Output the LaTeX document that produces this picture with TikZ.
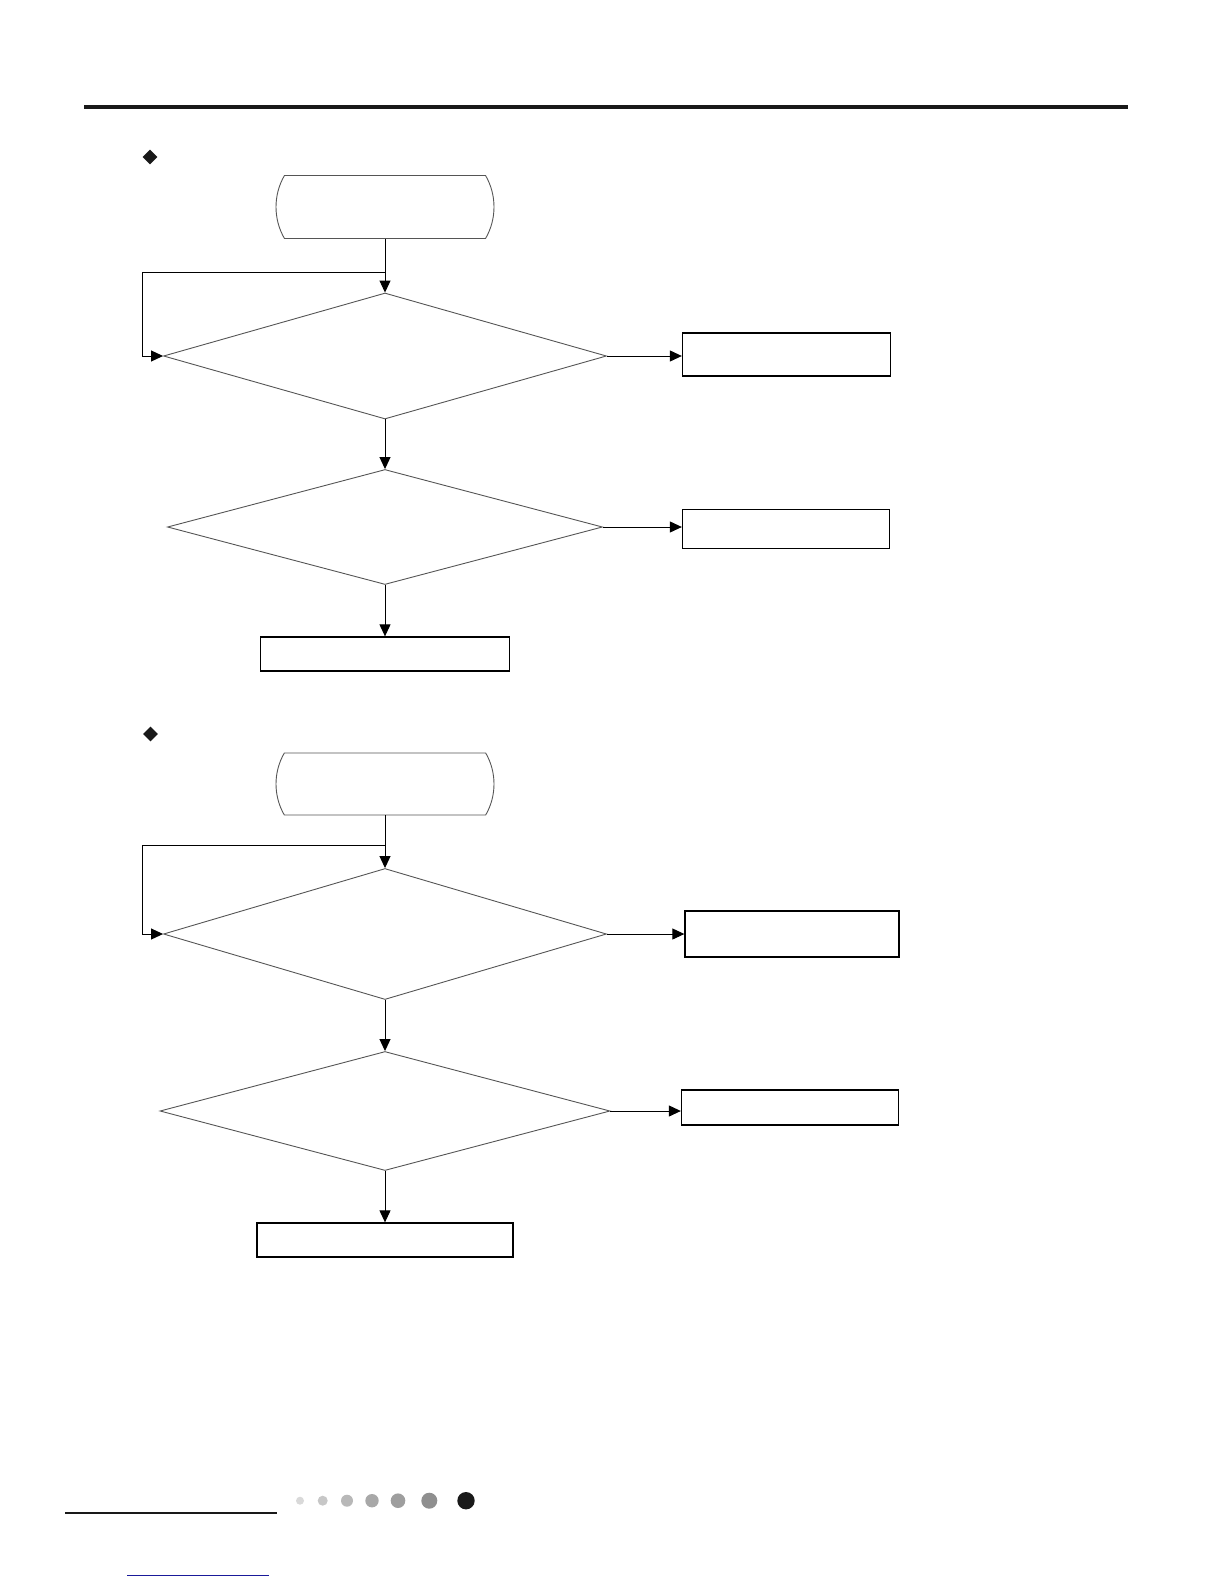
\documentclass[tikz,border=0pt]{standalone}
\usepackage{tikz}
\usetikzlibrary{arrows.meta, shapes.geometric, shapes.misc}
\definecolor{linegray}{HTML}{555555}
\definecolor{linkblue}{HTML}{1A1A9A}

\begin{document}
\begin{tikzpicture}[
  x=1pt, y=-1pt,
  termbox/.style={
    draw, rounded rectangle, rounded rectangle arc length=60, line width=0.9pt,
    draw=linegray, inner sep=0pt,
  },
  decide/.style={
    draw=linegray, diamond, inner sep=0pt, line width=0.9pt,
  },
  plainbox/.style={
    draw, rectangle, inner sep=0pt, line width=1.3pt,
  },
  bullet/.style={
    diamond, fill=black!90, inner sep=0pt, minimum size=15pt,
  },
  arrow/.style={-{Triangle[length=12pt,width=11pt]}, line width=1pt},
]
\useasboundingbox (0,0) rectangle (1224,1584);

% header rule
\draw[line width=3.5pt, black!90] (84,107) -- (1128,107);

% first chart
\node[bullet] (mark1) at (150,157) {};
\node[termbox, minimum width=218pt, minimum height=63pt] (start1) at (385,207) {};
\node[decide, minimum width=443pt, minimum height=126pt] (check1) at (385,356) {};
\node[plainbox, minimum width=208pt, minimum height=43pt] (fault1) at (786.5,354.5) {};
\node[decide, minimum width=435pt, minimum height=115pt] (check2) at (385,527) {};
\node[plainbox, minimum width=207pt, minimum height=39pt] (fault2) at (786,529) {};
\node[plainbox, minimum width=249pt, minimum height=34pt] (normal1) at (385,654) {};
\coordinate (loop1) at (142,272);

\draw[arrow] (start1.south) -- (check1.north);
\draw[arrow] (start1.south |- loop1) -- (loop1) |- (check1.west);
\draw[arrow] (check1.east) -- (check1.east -| fault1.west);
\draw[arrow] (check1.south) -- (check2.north);
\draw[arrow] (check2.east) -- (check2.east -| fault2.west);
\draw[arrow] (check2.south) -- (normal1.north);

% second chart
\node[bullet] (mark2) at (150.5,734) {};
\node[termbox, minimum width=218pt, minimum height=62pt] (start2) at (385,784) {};
\node[decide, minimum width=443pt, minimum height=131pt] (check3) at (385,934) {};
\node[plainbox, minimum width=214pt, minimum height=46pt] (fault3) at (792,934) {};
\node[decide, minimum width=450pt, minimum height=119pt] (check4) at (385,1111) {};
\node[plainbox, minimum width=217pt, minimum height=35pt] (fault4) at (790,1107.5) {};
\node[plainbox, minimum width=256pt, minimum height=34pt] (normal2) at (385,1240) {};
\coordinate (loop2) at (142,845);

\draw[arrow] (start2.south) -- (check3.north);
\draw[arrow] (start2.south |- loop2) -- (loop2) |- (check3.west);
\draw[arrow] (check3.east) -- (check3.east -| fault3.west);
\draw[arrow] (check3.south) -- (check4.north);
\draw[arrow] (check4.east) -- (check4.east -| fault4.west);
\draw[arrow] (check4.south) -- (normal2.north);

% footer
\draw[line width=2.2pt, black!90] (65,1513) -- (277,1513);
\foreach \cx/\r/\shade in {300/4/15, 322.7/5/22, 347/6/28, 372/6.7/34, 398/7.3/38, 429.3/8/44, 466/8.7/90}
  \fill[black!\shade] (\cx,1500.7) circle (\r pt);
\draw[line width=1pt, linkblue] (127,1575) -- (269,1575);

\end{tikzpicture}
\end{document}
